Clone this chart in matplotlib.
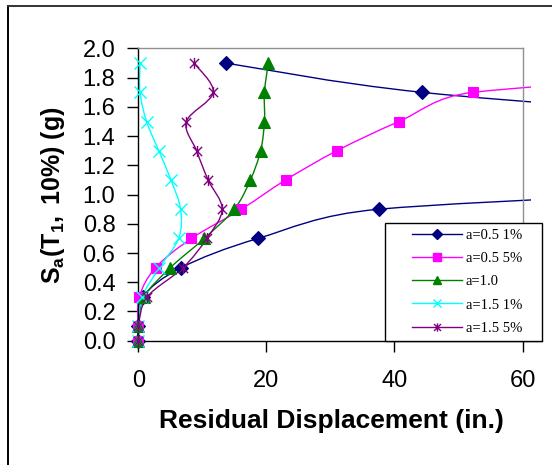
import matplotlib
matplotlib.use("Agg")
import matplotlib.pyplot as plt
from matplotlib.path import Path
from matplotlib.patches import PathPatch, Rectangle
from matplotlib.lines import Line2D
import numpy as np

plt.rcParams['font.family'] = ['Liberation Sans', 'DejaVu Sans']
plt.rcParams['mathtext.fontset'] = 'custom'
plt.rcParams['mathtext.rm'] = 'Liberation Sans'
plt.rcParams['mathtext.bf'] = 'Liberation Sans:bold'
plt.rcParams['mathtext.it'] = 'Liberation Sans:italic'

# ---- data ----
sa_levels = [0.0, 0.1, 0.3, 0.5, 0.7, 0.9, 1.1, 1.3, 1.5, 1.7, 1.9]
disp_a05_1 = [0.0, 0.0, 0.7, 6.7, 18.7, 37.6, 120.0, 140.0, 100.0, 44.3, 13.7]
disp_a05_5 = [0.0, 0.0, 0.15, 2.7, 8.3, 16.1, 23.0, 31.0, 40.7, 52.3, 120.0]
disp_a10 = [0.0, 0.0, 0.9, 5.0, 10.3, 15.0, 17.5, 19.1, 19.7, 19.7, 20.3]
disp_a15_1 = [0.0, 0.0, 0.6, 3.3, 6.3, 6.6, 5.1, 3.2, 1.3, 0.27, 0.27]
disp_a15_5 = [0.0, 0.0, 1.4, 7.0, 10.7, 13.1, 10.9, 9.1, 7.5, 11.7, 8.7]
series_labels = ["a=0.5 1%", "a=0.5 5%", "a=1.0", "a=1.5 1%", "a=1.5 5%"]
x_ticks = [0, 20, 40, 60]
y_ticks = [0.0, 0.2, 0.4, 0.6, 0.8, 1.0, 1.2, 1.4, 1.6, 1.8, 2.0]

series = [disp_a05_1, disp_a05_5, disp_a10, disp_a15_1, disp_a15_5]
colors = ['#000080', '#FF00FF', '#008000', '#00FFFF', '#800080']

star_path = Path([(-1, -1), (1, 1), (-1, 1), (1, -1), (0, -1.2), (0, 1.2)],
                 [Path.MOVETO, Path.LINETO, Path.MOVETO, Path.LINETO, Path.MOVETO, Path.LINETO])
markers = ['D', 's', '^', 'x', star_path]
msizes = [7.0, 7.5, 8.5, 8.5, 8.0]


def smooth_path(ax, xs, ys):
    """Excel-like smoothed line: Bezier segments, control arms = 1/6 of the
    neighbour chord, capped at half the segment length (in display space)."""
    tr = ax.transData
    P = tr.transform(np.column_stack([xs, ys]).astype(float))
    n = len(P)
    verts = [P[0]]
    codes = [Path.MOVETO]
    for i in range(n - 1):
        p0 = P[i - 1] if i > 0 else P[i]
        p1 = P[i]
        p2 = P[i + 1]
        p3 = P[i + 2] if i + 2 < n else P[i + 1]
        d12 = np.hypot(*(p2 - p1))
        v1 = p2 - p0
        v2 = p3 - p1
        d02 = np.hypot(*v1)
        d13 = np.hypot(*v2)
        a1 = v1 / 6.0
        if d02 / 6.0 > d12 / 2.0 and d02 > 0:
            a1 = v1 / d02 * (d12 / 2.0)
        a2 = v2 / 6.0
        if d13 / 6.0 > d12 / 2.0 and d13 > 0:
            a2 = v2 / d13 * (d12 / 2.0)
        verts += [p1 + a1, p2 - a2, p2]
        codes += [Path.CURVE4] * 3
    V = tr.inverted().transform(np.array(verts))
    return Path(V, codes)


W, H = 552, 465
fig = plt.figure(figsize=(W / 100, H / 100), dpi=100)
fig.patch.set_facecolor('white')

# outer chart frame
fig.add_artist(Line2D([8 / W, 8 / W], [0, 1 - 6.5 / H], transform=fig.transFigure, color='black', lw=1.4))
fig.add_artist(Line2D([8 / W, 1], [1 - 6.5 / H, 1 - 6.5 / H], transform=fig.transFigure, color='#333333', lw=1.4))

left, right, top, bottom = 138.3, 522.5, 48.5, 340.7
ax = fig.add_axes([left / W, 1 - bottom / H, (right - left) / W, (bottom - top) / H])
ax.set_xlim(0, 60)
ax.set_ylim(0, 2.0)

clip = Rectangle((-0.05, -0.05), 1.05 + 1.3 / 60, 1.08, transform=ax.transAxes, facecolor='none', edgecolor='none')
ax.add_patch(clip)

for xs, c, m, ms in zip(series, colors, markers, msizes):
    pp = PathPatch(smooth_path(ax, xs, sa_levels), facecolor='none', edgecolor=c, lw=1.0,
                   transform=ax.transData, zorder=2)
    ax.add_patch(pp)
    pp.set_clip_path(clip)
    if m == 'x' or m is star_path:
        ln, = ax.plot(xs, sa_levels, linestyle='none', marker=m, ms=ms, mec=c, mfc='none', mew=1.0, zorder=3)
    else:
        ln, = ax.plot(xs, sa_levels, linestyle='none', marker=m, ms=ms, mec=c, mfc=c, mew=0.8, zorder=3)
    ln.set_clip_path(clip)

ax.set_xticks(x_ticks)
ax.set_xticklabels([str(v) for v in x_ticks])
ax.set_yticks(y_ticks)
ax.set_yticklabels([f"{v:.1f}" for v in y_ticks])
ax.tick_params(axis='both', direction='out', length=8, width=1.0, colors='black', labelsize=17)
ax.tick_params(axis='x', pad=13)
ax.tick_params(axis='y', pad=8.5)
for s in ['top', 'right']:
    ax.spines[s].set_color('#909090')
    ax.spines[s].set_linewidth(1.0)
for s in ['left', 'bottom']:
    ax.spines[s].set_color('black')
    ax.spines[s].set_linewidth(1.0)

fig.text(331 / W, 1 - 421 / H, "Residual Displacement (in.)", ha='center', va='center',
         fontsize=19, fontweight='bold')
fig.text(53 / W, 1 - 195 / H, r"$\mathbf{S_a(T_1,\ 10\%)\ (g)}$", ha='center', va='center',
         rotation=90, fontsize=18)

# x-axis extension under legend
fig.add_artist(Line2D([right / W, 542 / W], [1 - bottom / H, 1 - bottom / H], transform=fig.transFigure, color='black', lw=1.0))

# legend box
lx0, ly0, lx1, ly1 = 384.5, 222.7, 542.3, 340.7
fig.add_artist(Rectangle((lx0 / W, 1 - ly1 / H), (lx1 - lx0) / W, (ly1 - ly0) / H, transform=fig.transFigure,
                         facecolor='white', edgecolor='black', lw=1.0, zorder=5))
handles = []
for c, m, ms in zip(colors, markers, msizes):
    if m == 'x' or m is star_path:
        h = Line2D([], [], color=c, lw=1.0, marker=m, ms=ms * 0.75, mec=c, mfc='none', mew=1.0)
    else:
        h = Line2D([], [], color=c, lw=1.0, marker=m, ms=ms * 0.75, mec=c, mfc=c)
    handles.append(h)
leg = fig.legend(handles, series_labels, loc='upper left', bbox_to_anchor=(409 / W, 1 - 226 / H),
                 frameon=False, prop={'family': 'Liberation Serif', 'size': 10.5},
                 handlelength=3.4, handletextpad=0.3, labelspacing=0.68, borderpad=0.2, borderaxespad=0)
leg.set_zorder(6)

fig.savefig("out.png", dpi=100)
